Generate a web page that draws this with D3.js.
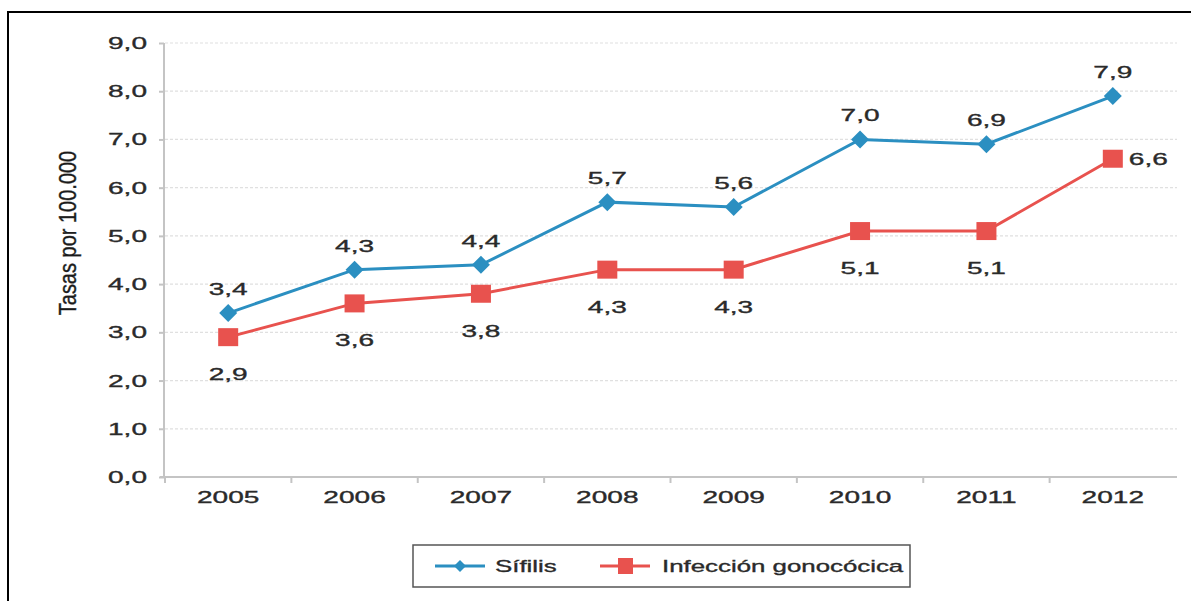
<!DOCTYPE html>
<html><head><meta charset="utf-8">
<script src="https://cdn.jsdelivr.net/npm/d3@7"></script>
<style>body{margin:0;background:#fff;}text{font-family:"Liberation Sans",Arial,sans-serif;stroke:#2a2a2a;stroke-width:0.35px;}</style>
</head><body><svg id="c" width="1191" height="601"></svg>
<script>
const years = ["2005","2006","2007","2008","2009","2010","2011","2012"];
const sifilis = [3.4,4.3,4.4,5.7,5.6,7.0,6.9,7.9];
const gonococica = [2.9,3.6,3.8,4.3,4.3,5.1,5.1,6.6];
const yTicks = [0,1,2,3,4,5,6,7,8,9];
const seriesNames = ["Sífilis","Infección gonocócica"];
const colors = ["#2b8fc1","#e8524e"];

const svg = d3.select("#c");
const SX = 1.65;
const fmt = v => v.toFixed(1).replace(".", ",");

// frame
svg.append("path").attr("d","M8,601 L8,12 L1191,12").attr("fill","none").attr("stroke","#000").attr("stroke-width",2);

const x = d3.scaleBand().domain(years).range([165,1176]);
const y = d3.scaleLinear().domain([0,9]).range([477,43]);

// gridlines
svg.append("g").selectAll("line").data(yTicks.filter(d=>d>0)).join("line")
  .attr("x1",165).attr("x2",1177).attr("y1",d=>y(d)).attr("y2",d=>y(d))
  .attr("stroke","#e0e0e0").attr("stroke-width",1.2).attr("stroke-dasharray","3,2");

// y axis
const ya = svg.append("g").attr("transform","translate(164,0)").call(d3.axisLeft(y).tickValues(yTicks).tickSize(5).tickFormat(""));
ya.selectAll("path,line").attr("stroke","#c4c4c4").attr("stroke-width",2);
ya.select(".domain").attr("d","M0,43V477");
svg.append("g").selectAll("text").data(yTicks).join("text")
  .attr("transform",d=>`translate(147,${y(d)+6}) scale(${SX},1)`)
  .attr("text-anchor","end").attr("font-size",17).attr("fill","#2a2a2a").text(fmt);

// x axis
const xa = svg.append("g").attr("transform","translate(0,477)").call(d3.axisBottom(x).tickSize(0).tickFormat(""));
xa.select(".domain").attr("stroke","#c4c4c4").attr("stroke-width",2).attr("d","M160,0H1177");
svg.append("g").selectAll("line").data(years).join("line")
  .attr("x1",d=>x(d)).attr("x2",d=>x(d)).attr("y1",477).attr("y2",483)
  .attr("stroke","#c4c4c4").attr("stroke-width",2);
svg.append("g").selectAll("text").data(years).join("text")
  .attr("transform",d=>`translate(${x(d)+x.bandwidth()/2},503) scale(${SX},1)`)
  .attr("text-anchor","middle").attr("font-size",17).attr("fill","#2a2a2a").text(d=>d);

// y label
svg.append("text").attr("transform",`translate(76,233) scale(1.2,1) rotate(-90)`)
  .attr("text-anchor","middle").attr("font-size",20).attr("fill","#1a1a1a").text("Tasas por 100.000");

const cx = d => x(d)+x.bandwidth()/2;
const line = d3.line().x((d,i)=>cx(years[i])).y(d=>y(d));

// series lines
[sifilis,gonococica].forEach((s,k)=>{
  svg.append("path").datum(s).attr("d",line).attr("fill","none").attr("stroke",colors[k]).attr("stroke-width",3);
});
// markers
svg.append("g").selectAll("path").data(sifilis).join("path")
  .attr("transform",(d,i)=>`translate(${cx(years[i])},${y(d)})`)
  .attr("d","M0,-9L9,0L0,9L-9,0Z").attr("fill",colors[0]);
svg.append("g").selectAll("rect").data(gonococica).join("rect")
  .attr("x",(d,i)=>cx(years[i])-10).attr("y",d=>y(d)-9).attr("width",20).attr("height",18).attr("fill",colors[1]);

// labels
svg.append("g").selectAll("text").data(sifilis).join("text")
  .attr("transform",(d,i)=>`translate(${cx(years[i])},${y(d)-18}) scale(${SX},1)`)
  .attr("text-anchor","middle").attr("font-size",17).attr("fill","#2a2a2a").text(fmt);
svg.append("g").selectAll("text").data(gonococica).join("text")
  .attr("transform",(d,i)=> i===years.length-1
     ? `translate(${cx(years[i])+16},${y(d)+6}) scale(${SX},1)`
     : `translate(${cx(years[i])},${y(d)+43}) scale(${SX},1)`)
  .attr("text-anchor",(d,i)=> i===years.length-1 ? "start" : "middle")
  .attr("font-size",17).attr("fill","#2a2a2a").text(fmt);

// legend
const lg = svg.append("g");
lg.append("rect").attr("x",413).attr("y",545).attr("width",497).attr("height",42)
  .attr("fill","#fff").attr("stroke","#555").attr("stroke-width",1.5);
const lItems = [{lx:435,tx:495},{lx:600,tx:662}];
lItems.forEach((it,k)=>{
  lg.append("line").attr("x1",it.lx).attr("x2",it.lx+50).attr("y1",566).attr("y2",566).attr("stroke",colors[k]).attr("stroke-width",3);
  if(k===0) lg.append("path").attr("transform",`translate(${it.lx+25},566)`).attr("d","M0,-6L6,0L0,6L-6,0Z").attr("fill",colors[0]);
  else lg.append("rect").attr("x",it.lx+18).attr("y",558).attr("width",15).attr("height",16).attr("fill",colors[1]);
  lg.append("text").attr("transform",`translate(${it.tx},572) scale(1.52,1)`).attr("font-size",17).attr("fill","#2a2a2a").text(seriesNames[k]);
});
</script></body></html>
